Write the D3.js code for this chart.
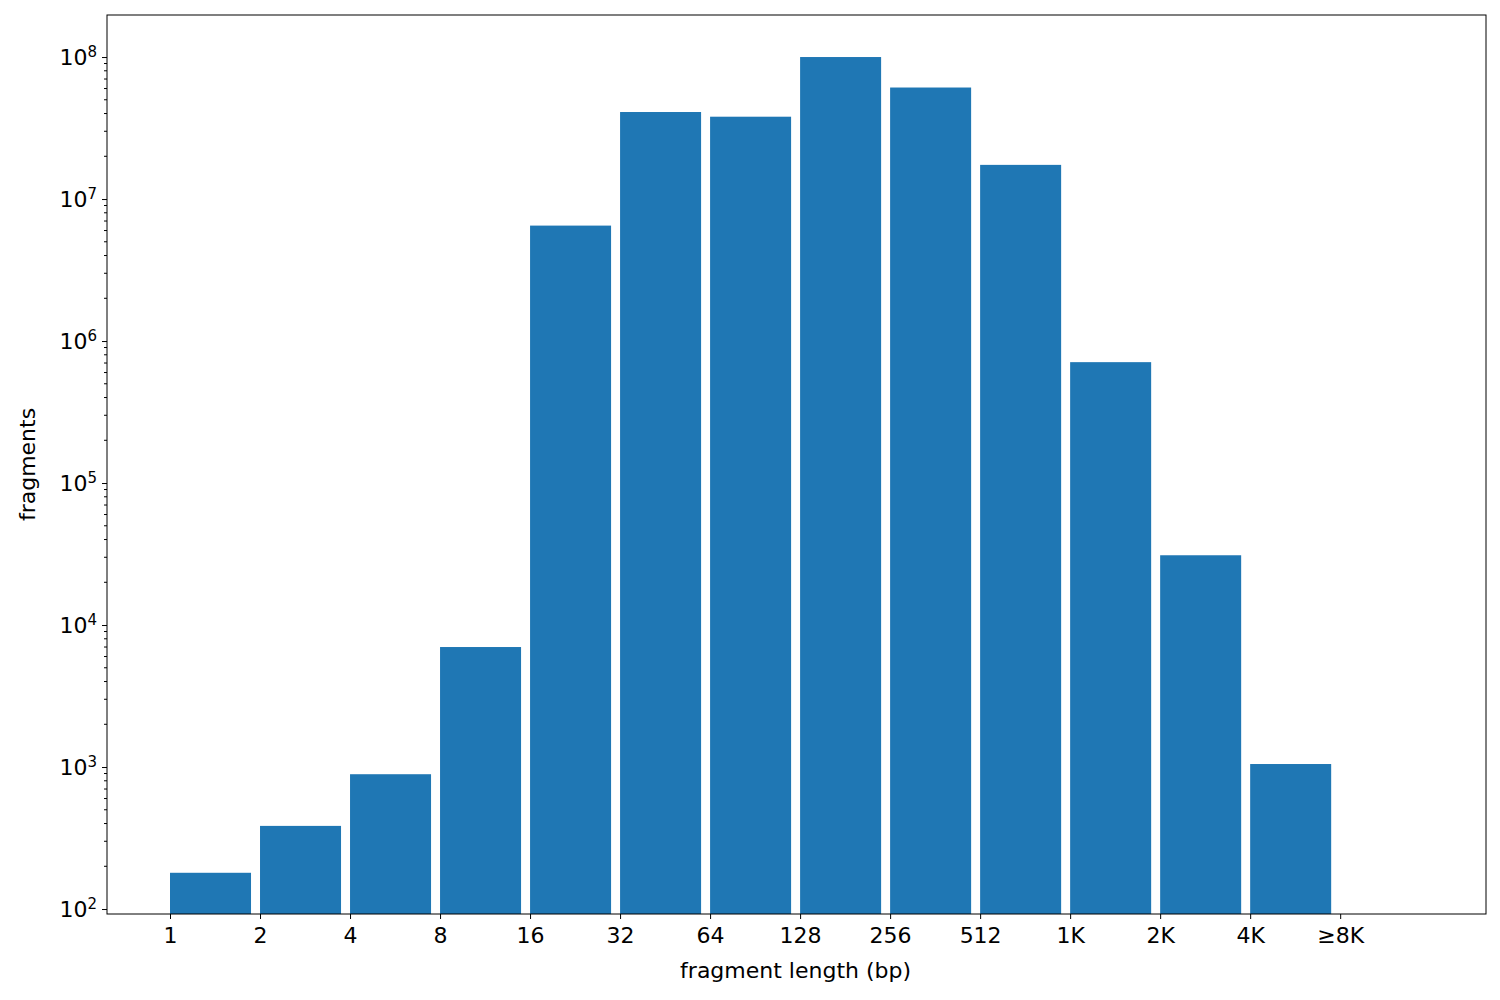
<!DOCTYPE html>
<html><head><meta charset="utf-8">
<script src="https://cdn.jsdelivr.net/npm/d3@7"></script>
<style>body{margin:0;background:#fff}text{font-family:"DejaVu Sans",sans-serif}</style>
</head><body><svg id="c" width="1500" height="1000"></svg>
<script>
// bins and counts
const binLabels = ["1", "2", "4", "8", "16", "32", "64", "128", "256", "512", "1K", "2K", "4K", "≥8K"];
const counts = [180, 385, 890, 7000, 6.5e6, 4.1e7, 3.8e7, 1.0e8, 6.1e7, 1.74e7, 7.1e5, 3.1e4, 1.05e3];
const yExponents = [2, 3, 4, 5, 6, 7, 8];

const margin = { top: 15, right: 14, bottom: 86, left: 107 };
const width = 1500 - margin.left - margin.right;
const height = 1000 - margin.top - margin.bottom;

const svg = d3.select("#c").append("g")
  .attr("transform", `translate(${margin.left},${margin.top})`);

// x is in bin-index units; each bar sits from its tick to 0.9 of the way to the next
const x = d3.scaleLinear().domain([-0.7, 14.62]).range([0, width]);
const y = d3.scaleLog().domain([Math.pow(10, 1.965), Math.pow(10, 8.296)]).range([height, 0]);

svg.selectAll("rect.bar").data(counts).enter().append("rect")
  .attr("class", "bar")
  .attr("x", (d, i) => x(i))
  .attr("width", x(0.9) - x(0))
  .attr("y", d => y(d))
  .attr("height", d => height - y(d))
  .attr("fill", "#1f77b4");

// x axis
const xAxis = svg.append("g").attr("transform", `translate(0,${height})`)
  .call(d3.axisBottom(x).tickValues(d3.range(binLabels.length))
    .tickFormat(i => binLabels[i]).tickSize(5).tickPadding(8));
xAxis.select(".domain").remove();
xAxis.selectAll("text").style("font-size", "22px").attr("fill", "#000");
xAxis.selectAll("line").attr("stroke", "#000");

// y axis, major ticks with superscript labels
const yAxis = svg.append("g")
  .call(d3.axisLeft(y).tickValues(yExponents.map(e => Math.pow(10, e))).tickSize(5).tickFormat(""));
yAxis.select(".domain").remove();
yAxis.selectAll("line").attr("stroke", "#000");
yAxis.selectAll(".tick").append("text")
  .attr("x", -10).attr("dy", "0.35em").attr("text-anchor", "end").attr("fill", "#000")
  .style("font-size", "22px")
  .each(function (d) {
    const t = d3.select(this);
    t.append("tspan").text("10");
    t.append("tspan").attr("dy", "-0.55em").style("font-size", "15px")
      .text(Math.round(Math.log10(d)));
  });

// minor ticks
const minor = [];
for (let e = 1; e <= 8; e++) for (let k = 2; k <= 9; k++) {
  const v = k * Math.pow(10, e);
  if (v > y.domain()[0] && v < y.domain()[1]) minor.push(v);
}
svg.append("g").selectAll("line").data(minor).enter().append("line")
  .attr("x1", -3).attr("x2", 0).attr("y1", d => y(d)).attr("y2", d => y(d))
  .attr("stroke", "#000");

// frame
svg.append("rect").attr("width", width).attr("height", height)
  .attr("fill", "none").attr("stroke", "#000").attr("stroke-width", 1);

svg.append("text").attr("x", x(6.95)).attr("y", height + 64)
  .attr("text-anchor", "middle").style("font-size", "22px").text("fragment length (bp)");
svg.append("text").attr("transform", `translate(-72,${height / 2}) rotate(-90)`)
  .attr("text-anchor", "middle").style("font-size", "22px").text("fragments");
</script></body></html>
